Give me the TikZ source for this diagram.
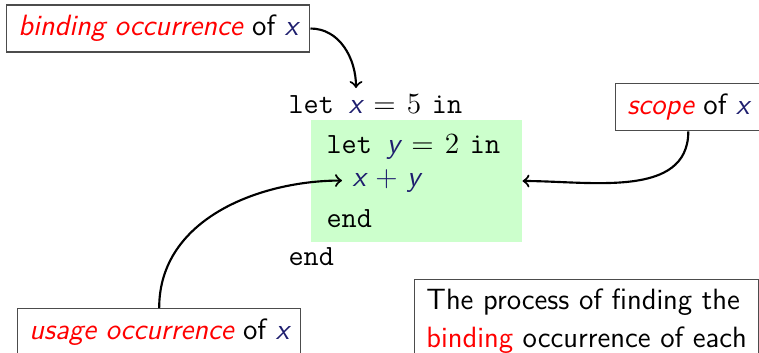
\documentclass[tikz,border=0pt]{standalone}
\usepackage{fontspec}
\usetikzlibrary{positioning}
\definecolor{mathblue}{RGB}{30,30,110}
\newcommand{\mv}[1]{{\color{mathblue}\sffamily\itshape #1}}
\newcommand{\hl}[1]{\textcolor{red}{#1}}
\newcommand{\eqop}{\hspace{4.2pt}{\rmfamily =}\hspace{4.2pt}}
\newcommand{\plusop}{\hspace{3.6pt}{\rmfamily\color{mathblue}+}\hspace{3.6pt}}
\newcommand{\num}[1]{{\rmfamily #1}\hspace{4pt}}
\tikzset{
  note/.style={draw=black!70, line width=0.5pt, inner xsep=4.4pt, minimum height=17.6pt, font=\fontsize{11}{14.25}\selectfont\sffamily},
  code/.style={font=\fontsize{11}{14.25}\selectfont\ttfamily, anchor=base west, inner sep=0pt},
  link/.style={->, thick}
}
\begin{document}
\begin{tikzpicture}[x=0.375pt, y=0.375pt]
\useasboundingbox (0,0) rectangle (759,-352);
\clip (0,0) rectangle (759,-352);
% inner let block
\node[fill=green!20, minimum width=79.1pt, minimum height=45.75pt, inner sep=0pt] (inner) at (416.5,-181) {};
\node[code] (let1) at (288,-113) {let \mv{x}\eqop\num{5}in};
\node[code] (let2) at (326,-153) {let \mv{y}\eqop\num{2}in};
\node[code] (sum) at (352,-186) {\mv{x}\plusop\mv{y}};
\node[code] (end2) at (326,-227) {end};
\node[code] (end1) at (288,-265) {end};
\coordinate (xdef) at (356,-88);
% callouts
\node[note, anchor=west] (bind) at (6,-28.5) {\hl{\itshape binding occurrence} of \mv{x}};
\node[note, anchor=north west] (scope) at (615,-83) {\hl{\itshape scope} of \mv{x}};
\node[note, anchor=north west] (usage) at (17,-308) {\hl{\itshape usage occurrence} of \mv{x}};
\node[note, anchor=north west, align=left, inner ysep=3.3pt, text depth=10pt, minimum height=0pt] (proc) at (414,-279)
  {The process of finding the\\ \hl{binding} occurrence of each};
\draw[link] (bind.east) to[out=0, in=90] (xdef);
\draw[link] (scope.south) to[out=-90, in=0] (inner.east);
\draw[link, shorten >=3.75pt] (usage.north) to[out=90, in=180] (sum.west);
\end{tikzpicture}
\end{document}
